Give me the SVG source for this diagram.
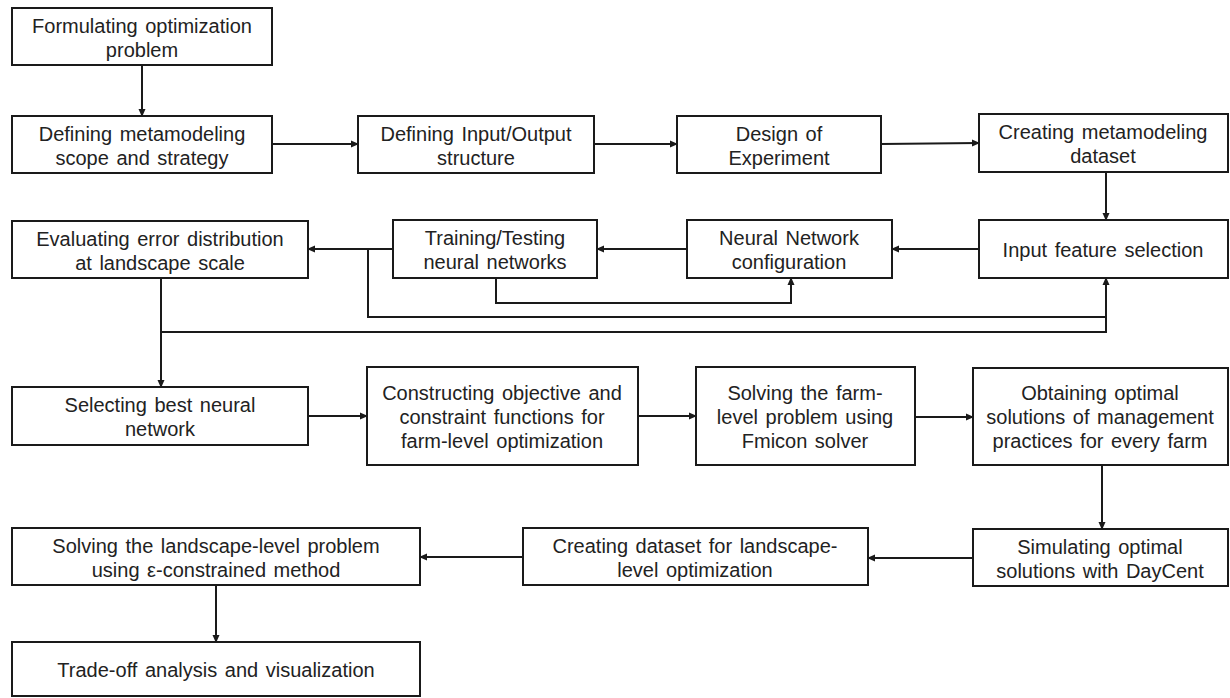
<svg xmlns="http://www.w3.org/2000/svg" width="1230" height="698" viewBox="0 0 1230 698">
<style>
.box rect{fill:#fff;stroke:#1a1a1a;stroke-width:2}
.box text{font-family:"Liberation Sans",Arial,sans-serif;font-size:20px;fill:#222;text-anchor:middle;word-spacing:2px}
.conn path{fill:none;stroke:#1a1a1a;stroke-width:2}
</style>
<defs>
<marker id="ah" markerWidth="8" markerHeight="8" refX="7" refY="4" orient="auto" markerUnits="userSpaceOnUse">
<path d="M0,0.5 L8,4 L0,7.5 Z" fill="#1a1a1a"/>
</marker>
</defs>
<rect width="1230" height="698" fill="#fff"/>
<g class="conn">
<path d="M142,65 V116" marker-end="url(#ah)"/>
<path d="M272,144 H358" marker-end="url(#ah)"/>
<path d="M594,144 H677" marker-end="url(#ah)"/>
<path d="M881,144 L979,143" marker-end="url(#ah)"/>
<path d="M1106,172 V220" marker-end="url(#ah)"/>
<path d="M979,249 H892" marker-end="url(#ah)"/>
<path d="M687,249 H597" marker-end="url(#ah)"/>
<path d="M393,249 H308" marker-end="url(#ah)"/>
<path d="M496,278 V303 H791 V278" marker-end="url(#ah)"/>
<path d="M368,249 V317 H1106 V278" marker-end="url(#ah)"/>
<path d="M161,278 V387" marker-end="url(#ah)"/>
<path d="M161,332 H1106 V317"/>
<path d="M308,416 H367" marker-end="url(#ah)"/>
<path d="M638,416 H696" marker-end="url(#ah)"/>
<path d="M915,417 H973" marker-end="url(#ah)"/>
<path d="M1102,465 V529" marker-end="url(#ah)"/>
<path d="M973,558 H868" marker-end="url(#ah)"/>
<path d="M523,557 H420" marker-end="url(#ah)"/>
<path d="M216,585 V642" marker-end="url(#ah)"/>
</g>
<g id="n1" class="box"><rect x="12" y="8" width="260" height="57"/><text x="142" y="32.5">Formulating optimization</text><text x="142" y="56.5">problem</text></g>
<g id="n2" class="box"><rect x="12" y="116" width="260" height="57"/><text x="142" y="140.5">Defining metamodeling</text><text x="142" y="164.5">scope and strategy</text></g>
<g id="n3" class="box"><rect x="358" y="116" width="236" height="57"/><text x="476" y="140.5">Defining Input/Output</text><text x="476" y="164.5">structure</text></g>
<g id="n4" class="box"><rect x="677" y="116" width="204" height="57"/><text x="779" y="140.5">Design of</text><text x="779" y="164.5">Experiment</text></g>
<g id="n5" class="box"><rect x="979" y="114" width="249" height="58"/><text x="1103" y="139">Creating metamodeling</text><text x="1103" y="163">dataset</text></g>
<g id="n6" class="box"><rect x="12" y="221" width="296" height="57"/><text x="160" y="245.5">Evaluating error distribution</text><text x="160" y="269.5">at landscape scale</text></g>
<g id="n7" class="box"><rect x="393" y="220" width="204" height="58"/><text x="495" y="245">Training/Testing</text><text x="495" y="269">neural networks</text></g>
<g id="n8" class="box"><rect x="687" y="220" width="205" height="58"/><text x="789" y="245">Neural Network</text><text x="789" y="269">configuration</text></g>
<g id="n9" class="box"><rect x="979" y="220" width="249" height="58"/><text x="1103" y="257">Input feature selection</text></g>
<g id="n10" class="box"><rect x="12" y="387" width="296" height="58"/><text x="160" y="412">Selecting best neural</text><text x="160" y="436">network</text></g>
<g id="n11" class="box"><rect x="367" y="367" width="271" height="98"/><text x="502" y="400">Constructing objective and</text><text x="502" y="424">constraint functions for</text><text x="502" y="448">farm-level optimization</text></g>
<g id="n12" class="box"><rect x="696" y="367" width="219" height="98"/><text x="805" y="400">Solving the farm-</text><text x="805" y="424">level problem using</text><text x="805" y="448">Fmicon solver</text></g>
<g id="n13" class="box"><rect x="973" y="368" width="255" height="97"/><text x="1100" y="400">Obtaining optimal</text><text x="1100" y="424">solutions of management</text><text x="1100" y="448">practices for every farm</text></g>
<g id="n14" class="box"><rect x="973" y="529" width="255" height="57"/><text x="1100" y="553.5">Simulating optimal</text><text x="1100" y="577.5">solutions with DayCent</text></g>
<g id="n15" class="box"><rect x="523" y="528" width="345" height="57"/><text x="695" y="552.5">Creating dataset for landscape-</text><text x="695" y="576.5">level optimization</text></g>
<g id="n16" class="box"><rect x="12" y="528" width="408" height="57"/><text x="216" y="552.5">Solving the landscape-level problem</text><text x="216" y="576.5">using ε-constrained method</text></g>
<g id="n17" class="box"><rect x="12" y="642" width="408" height="54"/><text x="216" y="677">Trade-off analysis and visualization</text></g>
</svg>
